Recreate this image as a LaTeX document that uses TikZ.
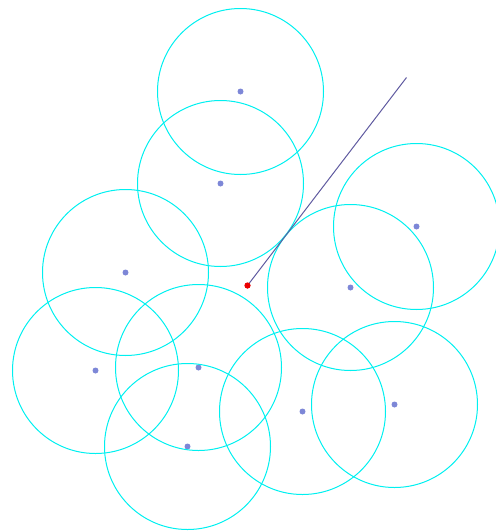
\documentclass[tikz,border=0pt]{standalone}
\usepackage{tikz}
\usetikzlibrary{positioning, calc}
\usepackage{xcolor}
\definecolor{ringcolor}{RGB}{0,240,240}
\definecolor{centercolor}{RGB}{125,135,215}
\definecolor{raycolor}{RGB}{95,90,160}
\definecolor{startcolor}{RGB}{235,0,0}

\begin{document}
\begin{tikzpicture}[
    x=1pt, y=-1pt,
    ring/.style={draw=ringcolor, line width=1pt},
    center/.style={circle, fill=centercolor, inner sep=0pt, minimum size=6pt},
    start/.style={circle, fill=startcolor, inner sep=0pt, minimum size=6pt},
    ray/.style={draw=raycolor, line width=1pt}
]
    \useasboundingbox (0,0) rectangle (496,531);

    % Circle centres
    \node[center] (c1) at (240.5,91.5) {};
    \node[center] (c2) at (220.5,183.5) {};
    \node[center] (c3) at (125.5,272.5) {};
    \node[center] (c4) at (416.5,226.5) {};
    \node[center] (c5) at (350.5,287.5) {};
    \node[center] (c6) at (95.5,370.5) {};
    \node[center] (c7) at (198.5,367.5) {};
    \node[center] (c8) at (187.5,446.5) {};
    \node[center] (c9) at (302.5,411.5) {};
    \node[center] (c10) at (394.5,404.5) {};

    % Circles
    \foreach \c in {c1,c2,c3,c4,c5,c6,c7,c8,c9,c10}
        \draw[ring] (\c.center) circle (83);

    % Ray
    \node[start] (origin) at (247.5,285.5) {};
    \coordinate (tip) at (406.5,77.5);
    \draw[ray] (origin.center) -- (tip);
    \node[start] at (origin) {};

\end{tikzpicture}
\end{document}
